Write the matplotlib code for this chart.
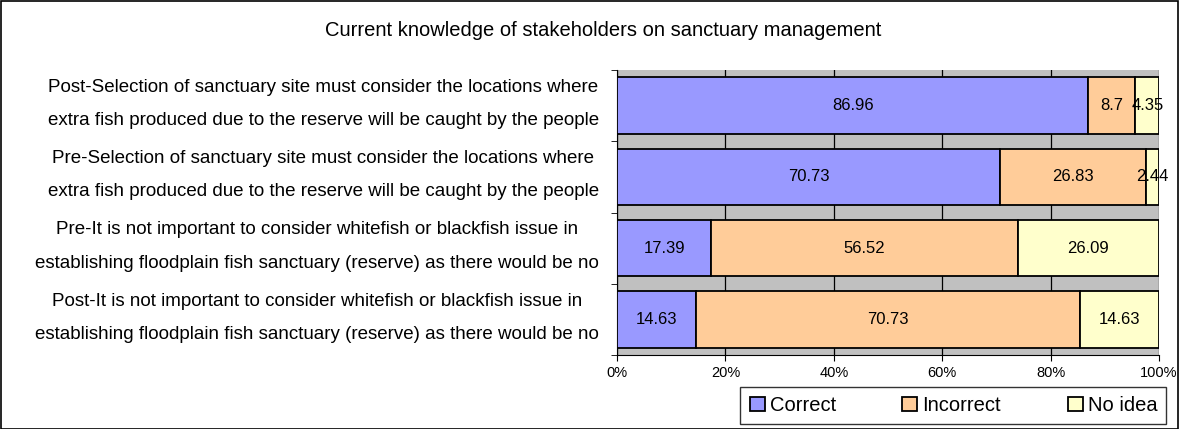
import matplotlib.pyplot as plt
import numpy as np
from matplotlib.patches import Rectangle

plt.rcParams['font.family'] = ['Liberation Sans', 'DejaVu Sans']

categories = [
    "Post-Selection of sanctuary site must consider the locations where\nextra fish produced due to the reserve will be caught by the people",
    "Pre-Selection of sanctuary site must consider the locations where\nextra fish produced due to the reserve will be caught by the people",
    "Pre-It is not important to consider whitefish or blackfish issue in\nestablishing floodplain fish sanctuary (reserve) as there would be no",
    "Post-It is not important to consider whitefish or blackfish issue in\nestablishing floodplain fish sanctuary (reserve) as there would be no",
]
correct = [86.96, 70.73, 17.39, 14.63]
incorrect = [8.7, 26.83, 56.52, 70.73]
no_idea = [4.35, 2.44, 26.09, 14.63]
series_names = ["Correct", "Incorrect", "No idea"]
colors = ["#9999FF", "#FFCC99", "#FFFFCC"]

fig = plt.figure(figsize=(11.8, 4.29), dpi=100)
ax = fig.add_axes([0.5229, 0.1725, 0.4593, 0.6643])
ax.set_facecolor("#C0C0C0")

y = np.arange(len(categories))
left = np.zeros(len(categories))
for vals, name, col in zip([correct, incorrect, no_idea], series_names, colors):
    ax.barh(y, vals, left=left, height=0.79, color=col, edgecolor="black",
            linewidth=1.3, label=name, zorder=3)
    for yi, l, v in zip(y, left, vals):
        ax.text(l + v / 2, yi, f"{v:g}", ha="center", va="center", fontsize=12, zorder=4)
    left = left + np.array(vals)

ax.set_xlim(0, 100)
ax.set_ylim(len(categories) - 0.5, -0.5)
ax.set_xticks([0, 20, 40, 60, 80, 100])
ax.set_xticklabels(["0%", "20%", "40%", "60%", "80%", "100%"], fontsize=10.5)
ax.xaxis.grid(True, color="black", linewidth=0.9, zorder=1)
ax.set_axisbelow(True)

ax.set_yticks(y - 0.165)
ax.set_yticklabels(categories, fontsize=13.5, linespacing=2.25, ha="right",
                   multialignment="center")
ax.tick_params(axis="y", length=0, pad=13)
ax.set_yticks(np.arange(len(categories) + 1) - 0.5, minor=True)
ax.tick_params(axis="y", which="minor", length=4)
ax.tick_params(axis="x", length=4, pad=4)

ax.spines["top"].set_visible(False)
ax.spines["right"].set_visible(False)

fig.text(0.511, 0.93, "Current knowledge of stakeholders on sanctuary management",
         ha="center", va="center", fontsize=14.5)

leg = ax.legend(loc="center", bbox_to_anchor=(0.808, 0.055), bbox_transform=fig.transFigure,
                ncol=3, fontsize=14.5, frameon=True, fancybox=False, edgecolor="black",
                handlelength=0.75, handleheight=0.75, handletextpad=0.25, columnspacing=3.3,
                borderpad=0.45)
leg.get_frame().set_linewidth(1.0)

fig.patches.append(Rectangle((0.0005, 0.001), 0.998, 0.997, transform=fig.transFigure,
                             fill=False, edgecolor="black", linewidth=1.2))

fig.savefig("out.png", dpi=100)
